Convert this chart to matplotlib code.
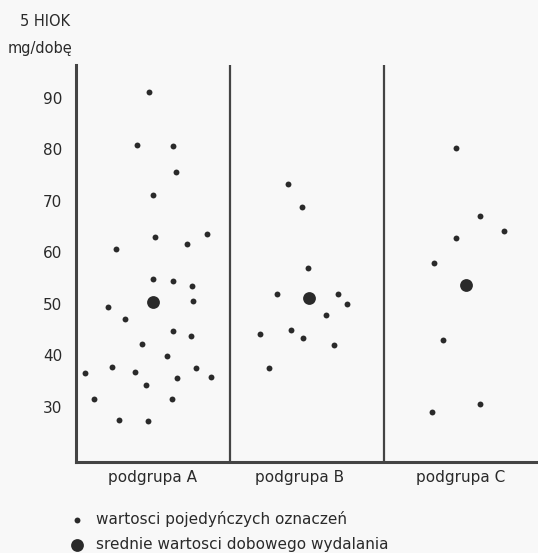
import matplotlib
matplotlib.use("Agg")
import matplotlib.pyplot as plt
import numpy as np

# ---- data ----
groups = ["podgrupa A", "podgrupa B", "podgrupa C"]

# individual measurements (mg/dobę) and their horizontal position inside each panel (0..1)
a_vals = [91.2, 80.9, 80.6, 75.6, 71.2, 62.9, 63.6, 61.7, 60.7, 54.9, 54.5, 53.5, 50.6,
          49.4, 47.0, 44.8, 43.7, 42.2, 39.8, 37.8, 37.6, 36.7, 36.5, 35.8, 35.6, 34.3,
          31.6, 31.6, 27.5, 27.3]
a_pos = [0.474, 0.394, 0.628, 0.647, 0.500, 0.513, 0.849, 0.719, 0.258, 0.500, 0.628,
         0.753, 0.760, 0.208, 0.318, 0.630, 0.749, 0.427, 0.593, 0.236, 0.779, 0.381,
         0.058, 0.879, 0.656, 0.455, 0.117, 0.621, 0.281, 0.469]

b_vals = [73.3, 68.8, 56.9, 51.9, 51.9, 49.9, 47.8, 45.0, 44.2, 43.4, 42.0, 37.5]
b_pos = [0.379, 0.469, 0.505, 0.307, 0.701, 0.758, 0.625, 0.394, 0.197, 0.474, 0.673, 0.255]

c_vals = [80.2, 67.0, 64.2, 62.8, 58.0, 43.0, 30.6, 29.1]
c_pos = [0.469, 0.625, 0.777, 0.468, 0.327, 0.383, 0.623, 0.314]

# group means
mean_vals = [50.3, 51.1, 53.6]
mean_pos = [0.498, 0.515, 0.531]

yticks = [30, 40, 50, 60, 70, 80, 90]

# ---- figure ----
ink = "#2a2a2a"
bg = "#f8f8f8"
fig = plt.figure(figsize=(5.38, 5.53), dpi=100, facecolor=bg)
ax = fig.add_axes([76/538, 91/553, 1 - 76/538, 397/553], facecolor=bg)

all_vals = [a_vals, b_vals, c_vals]
all_pos = [a_pos, b_pos, c_pos]
small = None
for i, (v, p) in enumerate(zip(all_vals, all_pos)):
    small = ax.scatter(np.array(p) + i, v, s=18, color=ink, linewidths=0, zorder=3,
                       label="wartosci pojedyńczych oznaczeń")
big = ax.scatter(np.array(mean_pos) + np.arange(3), mean_vals, s=85, color=ink,
                 linewidths=0, zorder=4, label="srednie wartosci dobowego wydalania")

ax.set_xlim(0, 3)
ax.set_ylim(19.3, 96.4)
for xd in [1, 2]:
    ax.axvline(xd, color="#444444", lw=1.6, zorder=2)

for s in ["top", "right"]:
    ax.spines[s].set_visible(False)
for s in ["left", "bottom"]:
    ax.spines[s].set_color("#444444")
    ax.spines[s].set_linewidth(2.2)

ax.set_yticks(yticks)
ax.set_yticklabels([str(t) for t in yticks])
ax.set_xticks([0.5, 1.45, 2.5])
ax.set_xticklabels(groups)
ax.tick_params(axis="y", length=0, pad=10, labelsize=11, labelcolor=ink)
ax.tick_params(axis="x", length=0, pad=6, labelsize=11, labelcolor=ink)

fig.text(45/538, 1 - 22/553, "5 HIOK", ha="center", va="center", fontsize=10.5, color=ink)
fig.text(40/538, 1 - 48/553, "mg/dobę", ha="center", va="center", fontsize=10.5, color=ink)

fig.legend(handles=[small, big], loc="upper left", bbox_to_anchor=(62/538, 1 - 503/553),
           frameon=False, fontsize=11, labelcolor=ink, handletextpad=0.7,
           handlelength=1.0, labelspacing=0.65, borderpad=0, scatterpoints=1)

fig.savefig("out.png", dpi=100, facecolor=bg)
